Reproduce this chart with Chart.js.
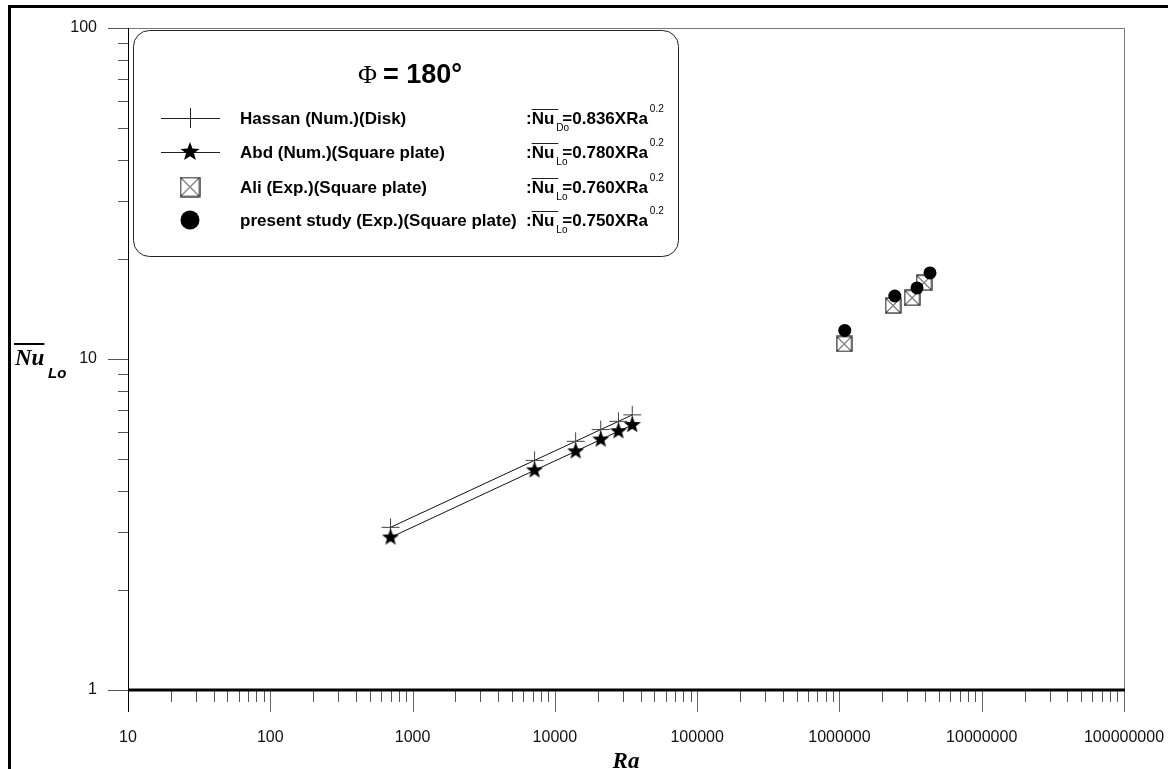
<!DOCTYPE html>
<html>
<head>
<meta charset="utf-8">
<script src="https://cdn.jsdelivr.net/npm/chart.js@4.4.1/dist/chart.umd.min.js"></script>
<style>
  html, body { margin: 0; padding: 0; background: #fff; }
  #wrap { width: 1168px; height: 769px; }
</style>
</head>
<body>
<div id="wrap"><canvas id="chart" width="1168" height="769"></canvas></div>
<script>
// values
const hassanRa = [700, 7200, 14000, 21000, 28000, 35000]
const hassanNu = [3.10, 4.94, 5.64, 6.12, 6.48, 6.78]
const abdRa = [700, 7200, 14000, 21000, 28000, 35000]
const abdNu = [2.89, 4.61, 5.26, 5.71, 6.05, 6.32]
const aliRa = [1.08e6, 2.38e6, 3.24e6, 3.93e6]
const aliNu = [11.1, 14.5, 15.3, 17.0]
const presentRa = [1.09e6, 2.45e6, 3.51e6, 4.33e6]
const presentNu = [12.2, 15.5, 16.4, 18.2]

const xDecades = [10, 100, 1000, 10000, 100000, 1000000, 10000000, 100000000]
const yDecades = [1, 10, 100]

const legendNames = ['Hassan (Num.)(Disk)', 'Abd (Num.)(Square plate)', 'Ali (Exp.)(Square plate)', 'present study (Exp.)(Square plate)']
const legendSub = ['Do', 'Lo', 'Lo', 'Lo']
const legendCoef = ['0.836', '0.780', '0.760', '0.750']
const legendExp = '0.2'
const legendTitle = '= 180°'

const SANS = '"Liberation Sans", Arial, sans-serif'
const SERIF = '"Liberation Serif", "Times New Roman", serif'

function pts(xs, ys) {
    return xs.map((x, i) => ({ x: x, y: ys[i] }))
}

// log ticks 1..9 x 10^k
function logTicks(min, max) {
    let out = []
    for (let d = min; d < max; d *= 10) {
        for (let m = 1; m < 10; m++) out.push({ value: d * m })
    }
    out.push({ value: max })
    return out
}
function isDecade(v) {
    let l = Math.log10(v)
    return Math.abs(l - Math.round(l)) < 1e-9
}

// marker images
function makeStar(r) {
    let c = document.createElement('canvas')
    c.width = c.height = r * 2 + 2
    let g = c.getContext('2d')
    g.translate(r + 1, r + 1)
    g.beginPath()
    for (let i = 0; i < 10; i++) {
        let rad = i % 2 == 0 ? r : r * 0.42
        let a = -Math.PI / 2 + i * Math.PI / 5
        g.lineTo(rad * Math.cos(a), rad * Math.sin(a))
    }
    g.closePath()
    g.fillStyle = '#000'
    g.fill()
    return c
}
function makeBoxX(s) {
    let c = document.createElement('canvas')
    c.width = c.height = s + 2
    let g = c.getContext('2d')
    g.strokeStyle = '#111'
    g.lineWidth = 1.2
    g.strokeRect(1, 1, s, s)
    g.beginPath()
    g.moveTo(1, 1); g.lineTo(s + 1, s + 1)
    g.moveTo(s + 1, 1); g.lineTo(1, s + 1)
    g.lineWidth = 1
    g.stroke()
    return c
}
const starImg = makeStar(9)
const boxImg = makeBoxX(15)
const starBig = makeStar(10)
const boxBig = makeBoxX(19)

const framePlugin = {
    id: 'frame',
    afterDraw(chart) {
        const ctx = chart.ctx
        const a = chart.chartArea
        const xs = chart.scales.x, ys = chart.scales.y
        ctx.save()

        // outer frame
        ctx.strokeStyle = '#000'
        ctx.lineWidth = 3
        ctx.beginPath()
        ctx.moveTo(9.5, 769); ctx.lineTo(9.5, 6.5); ctx.lineTo(1168, 6.5)
        ctx.stroke()

        // plot box top / right
        ctx.strokeStyle = '#777'
        ctx.lineWidth = 1
        ctx.beginPath()
        ctx.moveTo(a.left, a.top + 0.5); ctx.lineTo(a.right + 0.5, a.top + 0.5)
        ctx.lineTo(a.right + 0.5, a.bottom)
        ctx.stroke()

        // tick marks x
        xs.ticks.forEach(t => {
            let px = Math.round(xs.getPixelForValue(t.value)) + 0.5
            let len = isDecade(t.value) ? 22 : 12
            ctx.strokeStyle = isDecade(t.value) ? '#666' : '#555'
            ctx.beginPath()
            ctx.moveTo(px, a.bottom); ctx.lineTo(px, a.bottom + len)
            ctx.stroke()
        })
        // tick marks y
        ys.ticks.forEach(t => {
            let py = Math.round(ys.getPixelForValue(t.value)) + 0.5
            let len = isDecade(t.value) ? 20 : 10
            ctx.strokeStyle = '#555'
            ctx.beginPath()
            ctx.moveTo(a.left - len, py); ctx.lineTo(a.left, py)
            ctx.stroke()
        })

        // axes
        ctx.strokeStyle = '#000'
        ctx.lineWidth = 1
        ctx.beginPath()
        ctx.moveTo(a.left + 0.5, a.top); ctx.lineTo(a.left + 0.5, a.bottom + 22)
        ctx.stroke()
        ctx.lineWidth = 3
        ctx.beginPath()
        ctx.moveTo(a.left, a.bottom); ctx.lineTo(a.right + 1, a.bottom)
        ctx.stroke()

        // axis titles
        ctx.fillStyle = '#000'
        ctx.textBaseline = 'alphabetic'
        ctx.textAlign = 'left'
        ctx.font = 'bold italic 23px ' + SERIF
        ctx.fillText('Nu', 15, 365)
        let nw = ctx.measureText('Nu').width
        ctx.lineWidth = 2
        ctx.beginPath()
        ctx.moveTo(14, 344); ctx.lineTo(15 + nw, 344)
        ctx.stroke()
        ctx.font = 'bold italic 15px ' + SANS
        ctx.fillText('Lo', 48, 378)

        ctx.font = 'bold italic 23px ' + SERIF
        ctx.textAlign = 'center'
        ctx.fillText('Ra', 626, 768)

        // legend box
        let bx = 133, by = 30, bw = 545, bh = 226
        ctx.lineWidth = 1
        ctx.strokeStyle = '#222'
        ctx.beginPath()
        ctx.roundRect(bx + 0.5, by + 0.5, bw, bh, 16)
        ctx.fillStyle = '#fff'
        ctx.fill()
        ctx.stroke()

        // title
        ctx.fillStyle = '#000'
        ctx.textAlign = 'left'
        ctx.font = 'bold 27px ' + SANS
        let tw = ctx.measureText(legendTitle).width
        ctx.font = '26px ' + SERIF
        let pw = ctx.measureText('\u03A6').width
        let tx = 410 - (tw + pw + 6) / 2
        ctx.fillText('\u03A6', tx, 83)
        ctx.font = 'bold 27px ' + SANS
        ctx.fillText(legendTitle, tx + pw + 6, 83)

        const rowY = [118, 152, 187, 220]
        const mx = 190
        rowY.forEach((y, i) => {
            // symbol
            ctx.strokeStyle = '#222'
            ctx.lineWidth = 1
            if (i < 2) {
                ctx.beginPath()
                ctx.moveTo(161, y + 0.5); ctx.lineTo(220, y + 0.5)
                ctx.stroke()
            }
            if (i == 0) {
                ctx.beginPath()
                ctx.moveTo(mx + 0.5, y - 10); ctx.lineTo(mx + 0.5, y + 10)
                ctx.stroke()
            } else if (i == 1) {
                ctx.drawImage(starBig, mx - starBig.width / 2, y - starBig.height / 2)
            } else if (i == 2) {
                ctx.drawImage(boxBig, mx - boxBig.width / 2, y - boxBig.height / 2)
            } else {
                ctx.beginPath()
                ctx.arc(mx, y, 9.5, 0, Math.PI * 2)
                ctx.fillStyle = '#000'
                ctx.fill()
            }
            // name
            ctx.fillStyle = '#000'
            ctx.font = 'bold 17px ' + SANS
            ctx.fillText(legendNames[i], 240, y + 6)
            // formula
            let fx = 526
            ctx.fillText(':', fx, y + 6)
            fx += ctx.measureText(':').width
            ctx.fillText('Nu', fx, y + 6)
            let nuw = ctx.measureText('Nu').width
            ctx.lineWidth = 1
            ctx.beginPath()
            ctx.moveTo(fx, y - 8.5); ctx.lineTo(fx + nuw + 4, y - 8.5)
            ctx.stroke()
            fx += nuw
            ctx.font = '10px ' + SANS
            ctx.fillText(legendSub[i], fx + 2, y + 13)
            fx += 8
            ctx.font = 'bold 17px ' + SANS
            let rest = '=' + legendCoef[i] + 'XRa'
            ctx.fillText(rest, fx, y + 6)
            fx += ctx.measureText(rest).width
            ctx.font = '10px ' + SANS
            ctx.fillText(legendExp, fx + 2, y - 6)
        })
        ctx.restore()
    }
}

const config = {
    type: 'scatter',
    data: {
        datasets: [
            {
                label: 'present study',
                data: pts(presentRa, presentNu),
                pointStyle: 'circle',
                pointRadius: 6.5,
                backgroundColor: '#000',
                borderColor: '#000',
                borderWidth: 0
            },
            {
                label: 'Ali',
                data: pts(aliRa, aliNu),
                pointStyle: boxImg,
                borderColor: '#000'
            },
            {
                label: 'Abd',
                data: pts(abdRa, abdNu),
                showLine: true,
                borderColor: '#111',
                borderWidth: 1,
                pointStyle: starImg
            },
            {
                label: 'Hassan',
                data: pts(hassanRa, hassanNu),
                showLine: true,
                borderColor: '#111',
                borderWidth: 1,
                pointStyle: 'cross',
                pointRadius: 9,
                pointBorderColor: '#444',
                pointBorderWidth: 1
            }
        ]
    },
    options: {
        responsive: false,
        animation: false,
        events: [],
        layout: { padding: { top: 28, right: 44, left: 0, bottom: 0 } },
        plugins: {
            legend: { display: false },
            tooltip: { enabled: false }
        },
        scales: {
            x: {
                type: 'logarithmic',
                position: 'bottom',
                min: 10,
                max: 100000000,
                afterBuildTicks: (s) => { s.ticks = logTicks(10, 100000000) },
                afterFit: (s) => { s.height = 79 },
                grid: { display: false, drawTicks: true, tickLength: 38 },
                border: { display: false },
                ticks: {
                    autoSkip: false,
                    maxRotation: 0,
                    padding: 0,
                    color: '#111',
                    font: { family: SANS, size: 16 },
                    callback: (v) => isDecade(v) && xDecades.includes(v) ? String(v) : ''
                }
            },
            y: {
                type: 'logarithmic',
                min: 1,
                max: 100,
                afterBuildTicks: (s) => { s.ticks = logTicks(1, 100) },
                afterFit: (s) => { s.width = 128 },
                grid: { display: false, drawTicks: true, tickLength: 31 },
                border: { display: false },
                ticks: {
                    autoSkip: false,
                    padding: 0,
                    color: '#111',
                    font: { family: SANS, size: 16 },
                    callback: (v) => isDecade(v) && yDecades.includes(v) ? String(v) : ''
                }
            }
        }
    },
    plugins: [framePlugin]
}

const ctx = document.getElementById('chart').getContext('2d')
window.myChart = new Chart(ctx, config)
</script>
</body>
</html>
